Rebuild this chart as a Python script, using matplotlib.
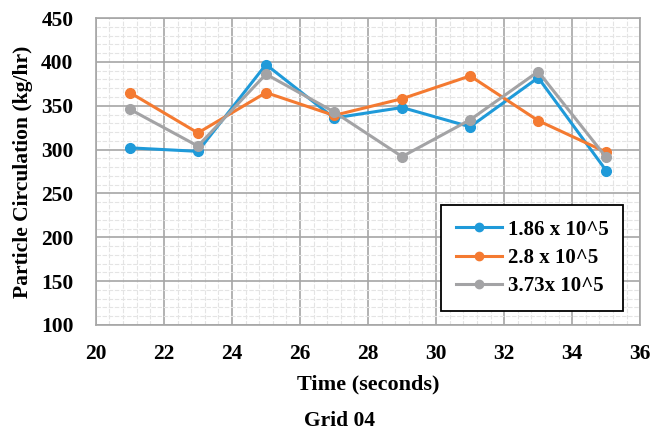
import numpy as np
import matplotlib
matplotlib.use('Agg')
import matplotlib.pyplot as plt
from matplotlib.ticker import MultipleLocator

plt.rcParams['font.family'] = ['Liberation Serif', 'DejaVu Serif']
plt.rcParams['font.weight'] = 'bold'

time_s = [21, 23, 25, 27, 29, 31, 33, 35]
re_186 = [302, 298, 397, 336, 348, 326, 382, 276]
re_280 = [365, 319, 365, 339, 358, 384, 333, 297]
re_373 = [346, 304, 386, 343, 292, 334, 389, 291]
labels = ['1.86 x 10^5', '2.8 x 10^5', '3.73x 10^5']
colors = ['#1F9AD9', '#F47A31', '#A3A3A5']

fig = plt.figure(figsize=(6.52, 4.36), dpi=100)
ax = fig.add_axes([0.147, 0.2546, 0.835, 0.704])

for ys, lab, c in zip([re_186, re_280, re_373], labels, colors):
    ax.plot(time_s, ys, color=c, lw=2.2, marker='o', ms=7, label=lab, zorder=3)

ax.set_xlim(20, 36)
ax.set_ylim(100, 450)
ax.xaxis.set_major_locator(MultipleLocator(2))
ax.yaxis.set_major_locator(MultipleLocator(50))
ax.xaxis.set_minor_locator(MultipleLocator(0.4))
ax.yaxis.set_minor_locator(MultipleLocator(10))
ax.grid(which='major', color='#A6A6A6', lw=1.2, zorder=1)
ax.grid(which='minor', color='#E4E4E4', lw=0.8, ls=(0, (4, 1.5)), zorder=0)
ax.tick_params(which='both', length=0, labelsize=15.5)
ax.tick_params(axis='x', pad=14)
ax.tick_params(axis='y', pad=16)
for s in ax.spines.values():
    s.set_color('#A6A6A6')
    s.set_linewidth(1.2)
for t in ax.get_xticklabels() + ax.get_yticklabels():
    t.set_fontweight('bold')

ax.set_xlabel('Time (seconds)', fontsize=16, fontweight='bold', labelpad=7)
ax.set_ylabel('Particle Circulation (kg/hr)', fontsize=15.5, fontweight='bold', labelpad=6)
fig.text(0.52, 0.022, 'Grid 04', ha='center', fontsize=15.5, fontweight='bold')

leg = ax.legend(loc='lower right', bbox_to_anchor=(0.969, 0.046), borderaxespad=0,
                fancybox=False, edgecolor='black', framealpha=1, fontsize=15,
                handlelength=2.2, handletextpad=0.3, borderpad=0.7, labelspacing=0.4)
leg.get_frame().set_linewidth(1.3)
for lh in leg.get_lines():
    lh.set_markersize(6)

fig.savefig('out.png', dpi=100)
